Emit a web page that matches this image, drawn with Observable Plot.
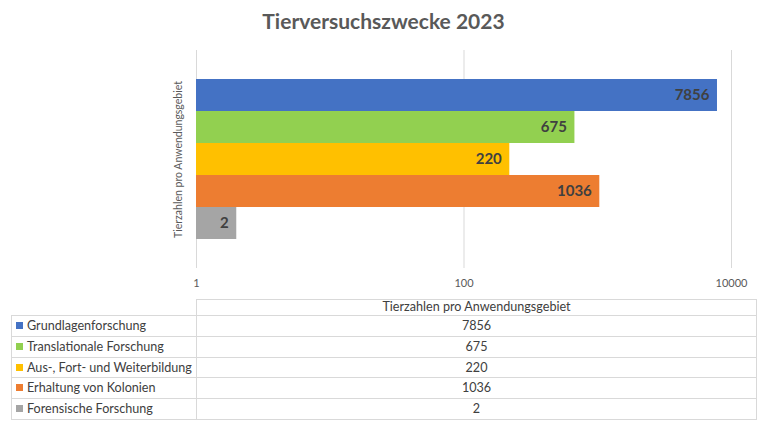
<!DOCTYPE html>
<html>
<head>
<meta charset="utf-8">
<script src="https://cdn.jsdelivr.net/npm/d3@7"></script>
<script src="https://cdn.jsdelivr.net/npm/@observablehq/plot@0.6"></script>
<style>
  body { margin: 0; background: #fff; }
  #wrap { position: relative; width: 767px; height: 430px; overflow: hidden; font-family: Lato, "Open Sans", sans-serif; }
  #title { position: absolute; top: 8px; left: 0; width: 767px; text-align: center; font-size: 21px; font-weight: bold; color: #595959; }
  #chart { position: absolute; top: 0; left: 0; }
  .cell { position: absolute; box-sizing: border-box; border: 1px solid #d9d9d9; font-size: 12.6px; color: #404040; line-height: 19px; white-space: nowrap; }
  .key { display: inline-block; width: 7px; height: 7px; margin: 0 4px 0 4px; vertical-align: 1px; }
</style>
</head>
<body>
<div id="wrap">
  <div id="title"></div>
  <div id="chart"></div>
  <div id="table"></div>
</div>
<script>
const title = "Tierversuchszwecke 2023";
const seriesLabel = "Tierzahlen pro Anwendungsgebiet";
const categories = ["Grundlagenforschung", "Translationale Forschung", "Aus-, Fort- und Weiterbildung", "Erhaltung von Kolonien", "Forensische Forschung"];
const values = [7856, 675, 220, 1036, 2];
const colors = ["#4472C4", "#92D050", "#FFC000", "#ED7D31", "#A5A5A5"];
const xTicks = [1, 100, 10000];

const data = categories.map((c, i) => ({category: c, value: values[i], color: colors[i]}));

document.getElementById("title").textContent = title;

const plot = Plot.plot({
  width: 767,
  height: 295,
  marginTop: 50,
  marginBottom: 27,
  marginLeft: 196,
  marginRight: 36,
  style: {fontFamily: "Lato, 'Open Sans', sans-serif", background: "transparent"},
  x: {type: "log", domain: [1, 10000], ticks: xTicks, tickFormat: d => String(d), label: null},
  y: {domain: categories, paddingInner: 0, paddingOuter: 0.885, axis: null},
  color: {domain: categories, range: colors},
  marks: [
    Plot.ruleX(xTicks, {stroke: "#d9d9d9", strokeWidth: 1}),
    Plot.barX(data, {x1: 1, x2: "value", y: "category", fill: "category"}),
    Plot.text(data, {x: "value", y: "category", text: d => String(d.value), textAnchor: "end", dx: -8, fontWeight: "bold", fontSize: 15, fill: "#404040"}),
    Plot.text([seriesLabel], {frameAnchor: "left", textAnchor: "middle", rotate: -90, dx: -18, text: d => d, fontSize: 10.5, fill: "#595959"}),
    Plot.axisX({ticks: xTicks, tickFormat: d => String(d), tickSize: 0, tickPadding: 11, fontSize: 11, color: "#595959", label: null})
  ]
});
document.getElementById("chart").appendChild(plot);

// data table
const table = d3.select("#table");
const left = 11, split = 196, right = 757;
const headerTop = 299, rowTop = 315, rowH = 20.8;
table.append("div").attr("class", "cell")
  .style("left", split + "px").style("top", headerTop + "px")
  .style("width", (right - split) + "px").style("height", (rowTop - headerTop + 1) + "px")
  .style("line-height", "14px").style("text-align", "center")
  .text(seriesLabel);
data.forEach((d, i) => {
  const top = rowTop + i * rowH;
  const c1 = table.append("div").attr("class", "cell")
    .style("left", left + "px").style("top", top + "px")
    .style("width", (split - left + 1) + "px").style("height", (rowH + 1) + "px");
  c1.append("span").attr("class", "key").style("background", d.color);
  c1.append("span").text(d.category);
  table.append("div").attr("class", "cell")
    .style("left", split + "px").style("top", top + "px")
    .style("width", (right - split) + "px").style("height", (rowH + 1) + "px")
    .style("text-align", "center")
    .text(String(d.value));
});
</script>
</body>
</html>
